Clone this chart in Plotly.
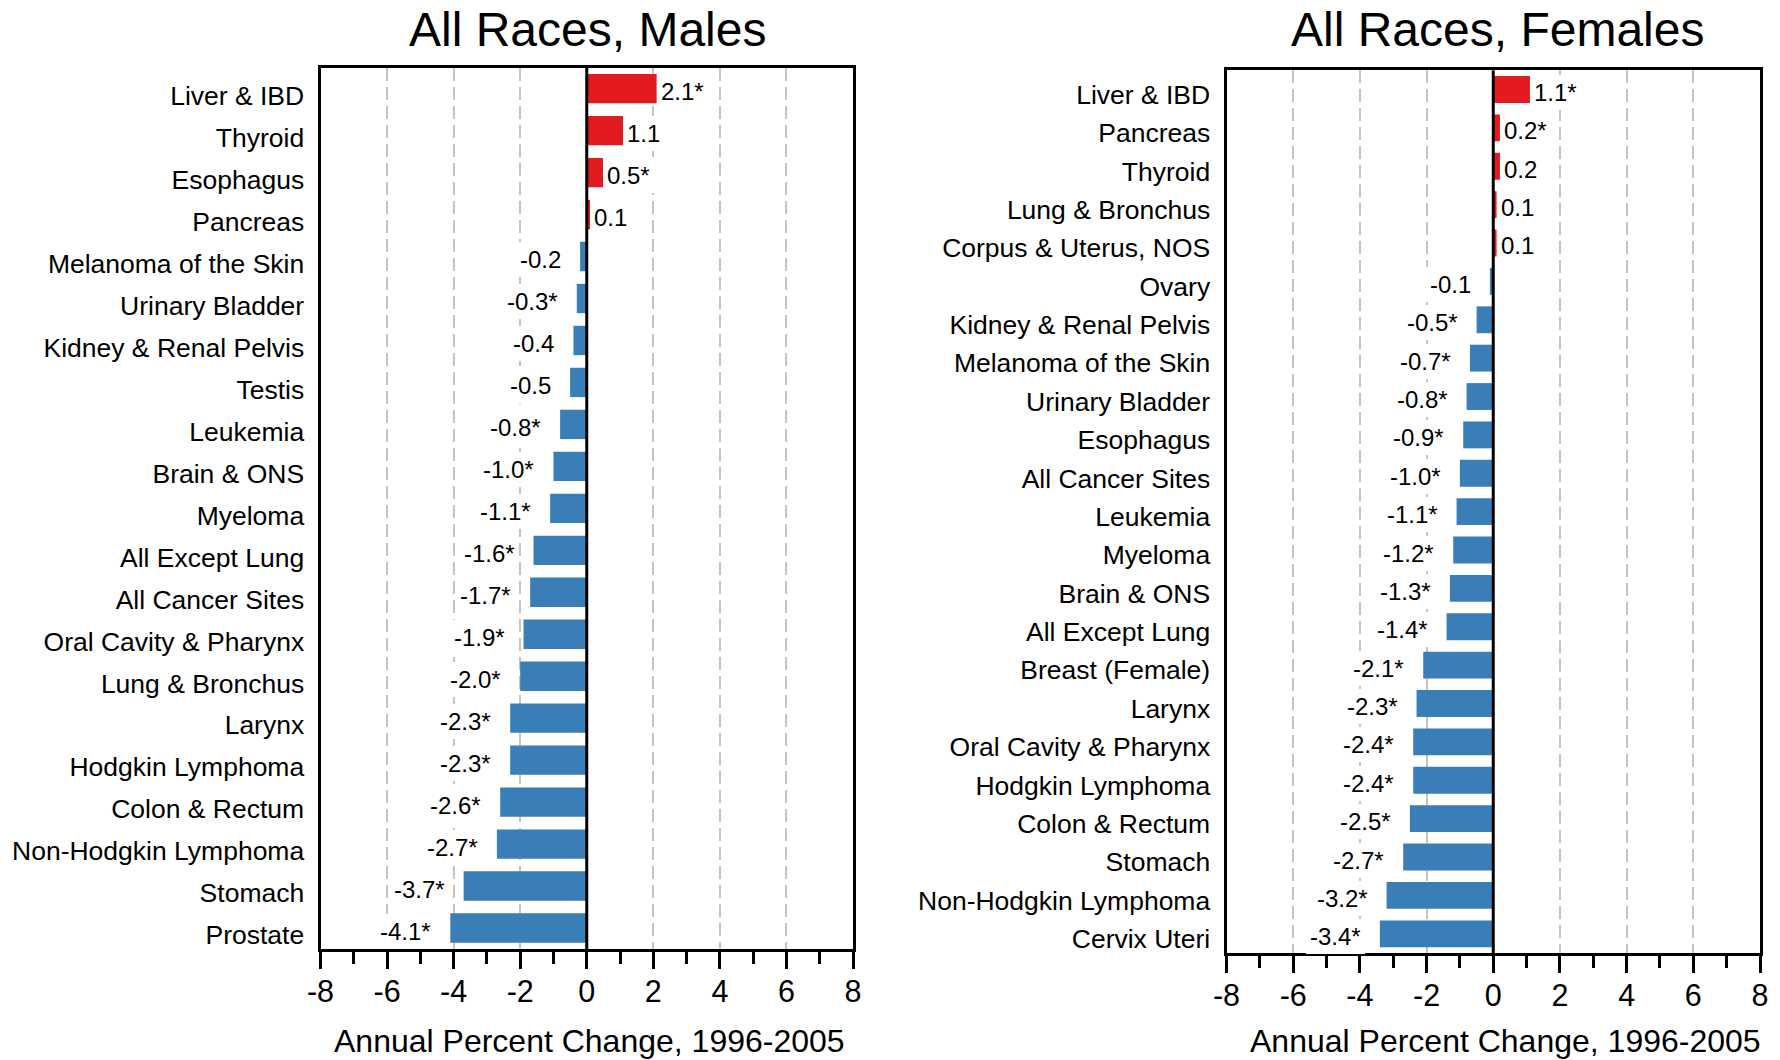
import plotly.graph_objects as go

# Annual percent change in cancer incidence, 1996-2005 (top-to-bottom order)
male_sites = [
    "Liver & IBD", "Thyroid", "Esophagus", "Pancreas", "Melanoma of the Skin",
    "Urinary Bladder", "Kidney & Renal Pelvis", "Testis", "Leukemia", "Brain & ONS",
    "Myeloma", "All Except Lung", "All Cancer Sites", "Oral Cavity & Pharynx",
    "Lung & Bronchus", "Larynx", "Hodgkin Lymphoma", "Colon & Rectum",
    "Non-Hodgkin Lymphoma", "Stomach", "Prostate",
]
male_apc = [2.1, 1.1, 0.5, 0.1, -0.2, -0.3, -0.4, -0.5, -0.8, -1.0, -1.1,
            -1.6, -1.7, -1.9, -2.0, -2.3, -2.3, -2.6, -2.7, -3.7, -4.1]
male_sig = [True, False, True, False, False, True, False, False, True, True, True,
            True, True, True, True, True, True, True, True, True, True]

female_sites = [
    "Liver & IBD", "Pancreas", "Thyroid", "Lung & Bronchus", "Corpus & Uterus, NOS",
    "Ovary", "Kidney & Renal Pelvis", "Melanoma of the Skin", "Urinary Bladder",
    "Esophagus", "All Cancer Sites", "Leukemia", "Myeloma", "Brain & ONS",
    "All Except Lung", "Breast (Female)", "Larynx", "Oral Cavity & Pharynx",
    "Hodgkin Lymphoma", "Colon & Rectum", "Stomach", "Non-Hodgkin Lymphoma",
    "Cervix Uteri",
]
female_apc = [1.1, 0.2, 0.2, 0.1, 0.1, -0.1, -0.5, -0.7, -0.8, -0.9, -1.0, -1.1,
              -1.2, -1.3, -1.4, -2.1, -2.3, -2.4, -2.4, -2.5, -2.7, -3.2, -3.4]
female_sig = [True, True, False, False, False, False, True, True, True, True, True,
              True, True, True, True, True, True, True, True, True, True, True, True]

panel_titles = ["All Races, Males", "All Races, Females"]
x_title = "Annual Percent Change, 1996-2005"
x_ticks = [-8, -6, -4, -2, 0, 2, 4, 6, 8]
x_tick_text = ["-8", "-6", "-4", "-2", "0", "2", "4", "6", "8"]

RED = "#E31B1F"
BLUE = "#3A7EB8"
FONT = "Liberation Sans, Arial, sans-serif"
W, H = 1780, 1060

fig = go.Figure()

panels = [
    dict(sites=male_sites, apc=male_apc, sig=male_sig, xa="x", ya="y",
         xdom=(320.5, 853), ydom=(67.7, 949), lshift=-7,
         title_x=587, xtitle_x=589),
    dict(sites=female_sites, apc=female_apc, sig=female_sig, xa="x2", ya="y2",
         xdom=(1226.5, 1760), ydom=(70.3, 953), lshift=-5,
         title_x=1497, xtitle_x=1505),
]

annotations = []
shapes = []
for i, p in enumerate(panels):
    colors = [RED if v > 0 else BLUE for v in p["apc"]]
    fig.add_trace(go.Bar(
        x=p["apc"], y=p["sites"], orientation="h",
        marker=dict(color=colors, line=dict(width=0)),
        xaxis=p["xa"], yaxis=p["ya"], showlegend=False,
        hoverinfo="x+y",
    ))
    sfx = "" if i == 0 else "2"
    n = len(p["sites"])
    fig.layout["xaxis" + sfx] = dict(
        domain=[p["xdom"][0] / W, p["xdom"][1] / W],
        anchor="y" + sfx, range=[-8, 8], automargin=False,
        tickmode="array", tickvals=x_ticks, ticktext=x_tick_text,
        ticks="outside", ticklen=17, tickwidth=2.5, tickcolor="black",
        ticklabelstandoff=-4,
        minor=dict(dtick=1, tick0=0, ticks="outside", ticklen=12,
                   tickwidth=2.5, tickcolor="black", showgrid=False),
        showgrid=True, gridcolor="#C4C4C4", gridwidth=2, griddash="13px,6px",
        zeroline=False, showline=True, mirror=True, linecolor="black",
        linewidth=3, tickfont=dict(family=FONT, size=30.5, color="black"),
        fixedrange=True,
    )
    fig.layout["yaxis" + sfx] = dict(
        domain=[1 - p["ydom"][1] / H, 1 - p["ydom"][0] / H],
        anchor="x" + sfx, type="category", automargin=False,
        categoryorder="array", categoryarray=p["sites"],
        range=[n - 0.5, -0.5], ticks="", showgrid=False, zeroline=False,
        showline=True, mirror=True, linecolor="black", linewidth=3,
        ticklabelstandoff=8, ticklabelshift=p["lshift"],
        tickfont=dict(family=FONT, size=26.5, color="black"),
        fixedrange=True,
    )

    # zero reference line drawn over the bars
    shapes.append(dict(type="line", xref=p["xa"], yref=p["ya"] + " domain",
                       x0=0, x1=0, y0=0, y1=1, layer="above",
                       line=dict(color="black", width=3)))

    # value labels next to each bar
    for site, v, s in zip(p["sites"], p["apc"], p["sig"]):
        txt = f"{v:.1f}" + ("*" if s else "")
        annotations.append(dict(
            x=v, y=site, xref=p["xa"], yref=p["ya"], text=txt, showarrow=False,
            xanchor="left" if v > 0 else "right",
            xshift=0 if v > 0 else -15, yshift=-3,
            bgcolor="white", borderpad=4, borderwidth=0,
            font=dict(family=FONT, size=24, color="black"),
        ))

    annotations.append(dict(
        x=p["title_x"] / W, y=1 - 30 / H, xref="paper", yref="paper",
        text=panel_titles[i], showarrow=False, xanchor="center", yanchor="middle",
        font=dict(family=FONT, size=48, color="black"),
    ))
    annotations.append(dict(
        x=p["xtitle_x"] / W, y=1 - 1041 / H, xref="paper", yref="paper",
        text=x_title, showarrow=False, xanchor="center", yanchor="middle",
        font=dict(family=FONT, size=32, color="black"),
    ))

fig.update_layout(
    width=W, height=H, margin=dict(l=0, r=0, t=0, b=0, autoexpand=False),
    paper_bgcolor="white", plot_bgcolor="white",
    bargap=0.3, annotations=annotations, shapes=shapes,
    font=dict(family=FONT, color="black"),
)

fig.write_html("out.html")
